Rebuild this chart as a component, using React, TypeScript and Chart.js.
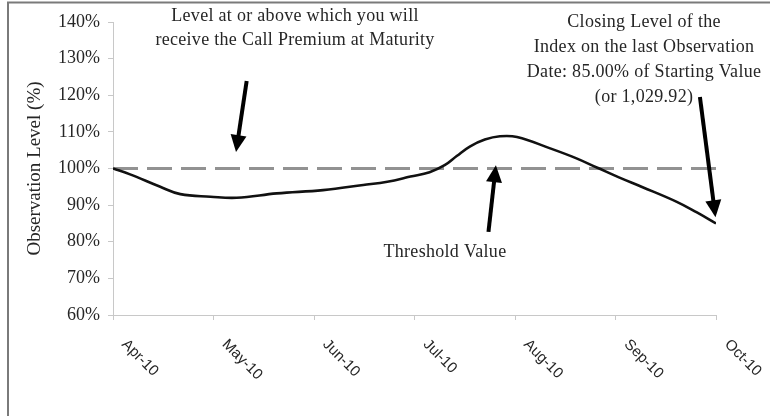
import React, { useEffect, useRef } from "react";
import { Chart, registerables } from "chart.js";

Chart.register(...registerables);

// ---- data ----
const monthLabels = ["Apr-10", "May-10", "Jun-10", "Jul-10", "Aug-10", "Sep-10", "Oct-10"];
// observation dates expressed in months since Apr-10
const obsMonths = [0, 0.17, 0.47, 0.67, 0.97, 1.23, 1.63, 2.09, 2.49, 2.73, 2.96, 3.15, 3.3, 3.42, 3.55, 3.7, 3.85, 4.02, 4.35, 4.6, 4.82, 5.04, 5.27, 5.61, 5.81, 6];
const obsLevels = [100, 98.4, 95.0, 93.0, 92.3, 92.0, 93.2, 94.1, 95.5, 96.4, 97.8, 99.0, 100.9, 103.4, 106.0, 107.9, 108.8, 108.6, 105.5, 102.9, 100.2, 97.5, 94.9, 90.9, 88.0, 85.0];
const thresholdLevel = 100;
const yMin = 60;
const yMax = 140;
const yStep = 10;

const callNote = ["Level at or above which you will", "receive the Call Premium at Maturity"];
const closeNote = ["Closing Level of the", "Index on the last Observation", "Date: 85.00% of Starting Value", "(or 1,029.92)"];
const thresholdNote = "Threshold Value";
const yTitle = "Observation Level (%)";

const SERIF = '"Liberation Serif", "Times New Roman", serif';
const SANS = '"Liberation Sans", Arial, sans-serif';
const TEXT = "#262626";

function drawArrow(ctx: CanvasRenderingContext2D, x0: number, y0: number, x1: number, y1: number) {
  const headLen = 17;
  const halfW = 8;
  const dx = x1 - x0;
  const dy = y1 - y0;
  const len = Math.sqrt(dx * dx + dy * dy);
  const ux = dx / len;
  const uy = dy / len;
  const bx = x1 - ux * headLen;
  const by = y1 - uy * headLen;
  ctx.beginPath();
  ctx.moveTo(x0, y0);
  ctx.lineTo(bx + ux * 2, by + uy * 2);
  ctx.lineWidth = 4;
  ctx.strokeStyle = "#000";
  ctx.stroke();
  ctx.beginPath();
  ctx.moveTo(x1, y1);
  ctx.lineTo(bx - uy * halfW, by + ux * halfW);
  ctx.lineTo(bx + uy * halfW, by - ux * halfW);
  ctx.closePath();
  ctx.fillStyle = "#000";
  ctx.fill();
}

const overlayPlugin = {
  id: "overlay",
  afterDraw(chart: any) {
    const ctx: CanvasRenderingContext2D = chart.ctx;
    const xs = chart.scales.x;
    const ys = chart.scales.y;
    const X = (m: number) => xs.getPixelForValue(m);
    const Y = (v: number) => ys.getPixelForValue(v);

    // rotated month labels
    ctx.save();
    ctx.font = `15px ${SANS}`;
    ctx.fillStyle = TEXT;
    xs.ticks.forEach((t: any) => {
      const label = monthLabels[Math.round(t.value)];
      if (label === undefined) return;
      const px = xs.getPixelForValue(t.value);
      ctx.save();
      ctx.translate(px + 11, xs.top + 27);
      ctx.rotate(Math.PI / 4);
      ctx.textAlign = "left";
      ctx.textBaseline = "middle";
      ctx.fillText(label, 0, 0);
      ctx.restore();
    });
    ctx.restore();

    // annotations
    ctx.save();
    ctx.font = `18px ${SERIF}`;
    (ctx as any).letterSpacing = "0.3px";
    ctx.fillStyle = TEXT;
    ctx.textAlign = "center";
    ctx.textBaseline = "alphabetic";
    const callBase = [140.27, 133.7];
    callNote.forEach((s, i) => ctx.fillText(s, X(1.811), Y(callBase[i])));
    const closeBase = [138.6, 131.8, 125.0, 118.2];
    closeNote.forEach((s, i) => ctx.fillText(s, X(5.284), Y(closeBase[i])));
    ctx.fillText(thresholdNote, X(3.303), Y(75.8));
    ctx.restore();

    ctx.save();
    drawArrow(ctx, X(1.33), Y(123.9), X(1.224), Y(104.5));
    drawArrow(ctx, X(3.736), Y(82.7), X(3.81), Y(100.9));
    drawArrow(ctx, X(5.84), Y(119.5), X(5.995), Y(86.7));
    ctx.restore();

    // frame
    ctx.save();
    ctx.strokeStyle = "#7a7a7a";
    ctx.lineWidth = 2;
    ctx.beginPath();
    ctx.moveTo(8, chart.height);
    ctx.lineTo(8, 2.5);
    ctx.lineTo(chart.width, 2.5);
    ctx.stroke();
    ctx.restore();
  },
};

export default function App() {
  const canvasRef = useRef<HTMLCanvasElement | null>(null);

  useEffect(() => {
    const canvas = canvasRef.current;
    if (!canvas) return;
    const curve = obsMonths.map((m, i) => ({ x: m, y: obsLevels[i] }));
    const threshold = [
      { x: 0, y: thresholdLevel },
      { x: monthLabels.length - 1, y: thresholdLevel },
    ];
    const chart = new Chart(canvas, {
      type: "line",
      data: {
        datasets: [
          {
            data: curve,
            borderColor: "#111",
            borderWidth: 2.6,
            pointRadius: 0,
            tension: 0.4,
            fill: false,
          },
          {
            data: threshold,
            borderColor: "#929292",
            borderWidth: 3,
            borderDash: [25, 9],
            pointRadius: 0,
            tension: 0,
            fill: false,
          },
        ],
      },
      options: {
        responsive: false,
        animation: false,
        events: [],
        layout: { padding: { top: 22, right: 54, bottom: 0, left: 0 } },
        plugins: { legend: { display: false }, tooltip: { enabled: false } },
        scales: {
          x: {
            type: "linear",
            min: 0,
            max: monthLabels.length - 1,
            ticks: { display: false, stepSize: 1 },
            grid: { drawOnChartArea: false, drawTicks: true, tickLength: 5, color: "#c8c8c8" },
            border: { color: "#c8c8c8", width: 1 },
            afterFit: (s: any) => {
              s.height = 101;
            },
          },
          y: {
            min: yMin,
            max: yMax,
            ticks: {
              stepSize: yStep,
              callback: (v: any) => `${v}%`,
              font: { family: SERIF, size: 18 },
              color: TEXT,
              padding: 8,
            },
            grid: { drawOnChartArea: false, drawTicks: true, tickLength: 5, color: "#c8c8c8" },
            border: { color: "#c8c8c8", width: 1 },
            title: {
              display: true,
              text: yTitle,
              font: { family: SERIF, size: 19 },
              color: TEXT,
              padding: { top: 24, bottom: 0 },
            },
            afterFit: (s: any) => {
              s.width = 113;
            },
          },
        },
      },
      plugins: [overlayPlugin],
    } as any);
    return () => chart.destroy();
  }, []);

  return (
    <div style={{ position: "fixed", left: 0, top: 0, width: 770, height: 416, background: "#fff" }}>
      <canvas ref={canvasRef} width={770} height={416} style={{ display: "block", width: 770, height: 416 }} />
    </div>
  );
}
